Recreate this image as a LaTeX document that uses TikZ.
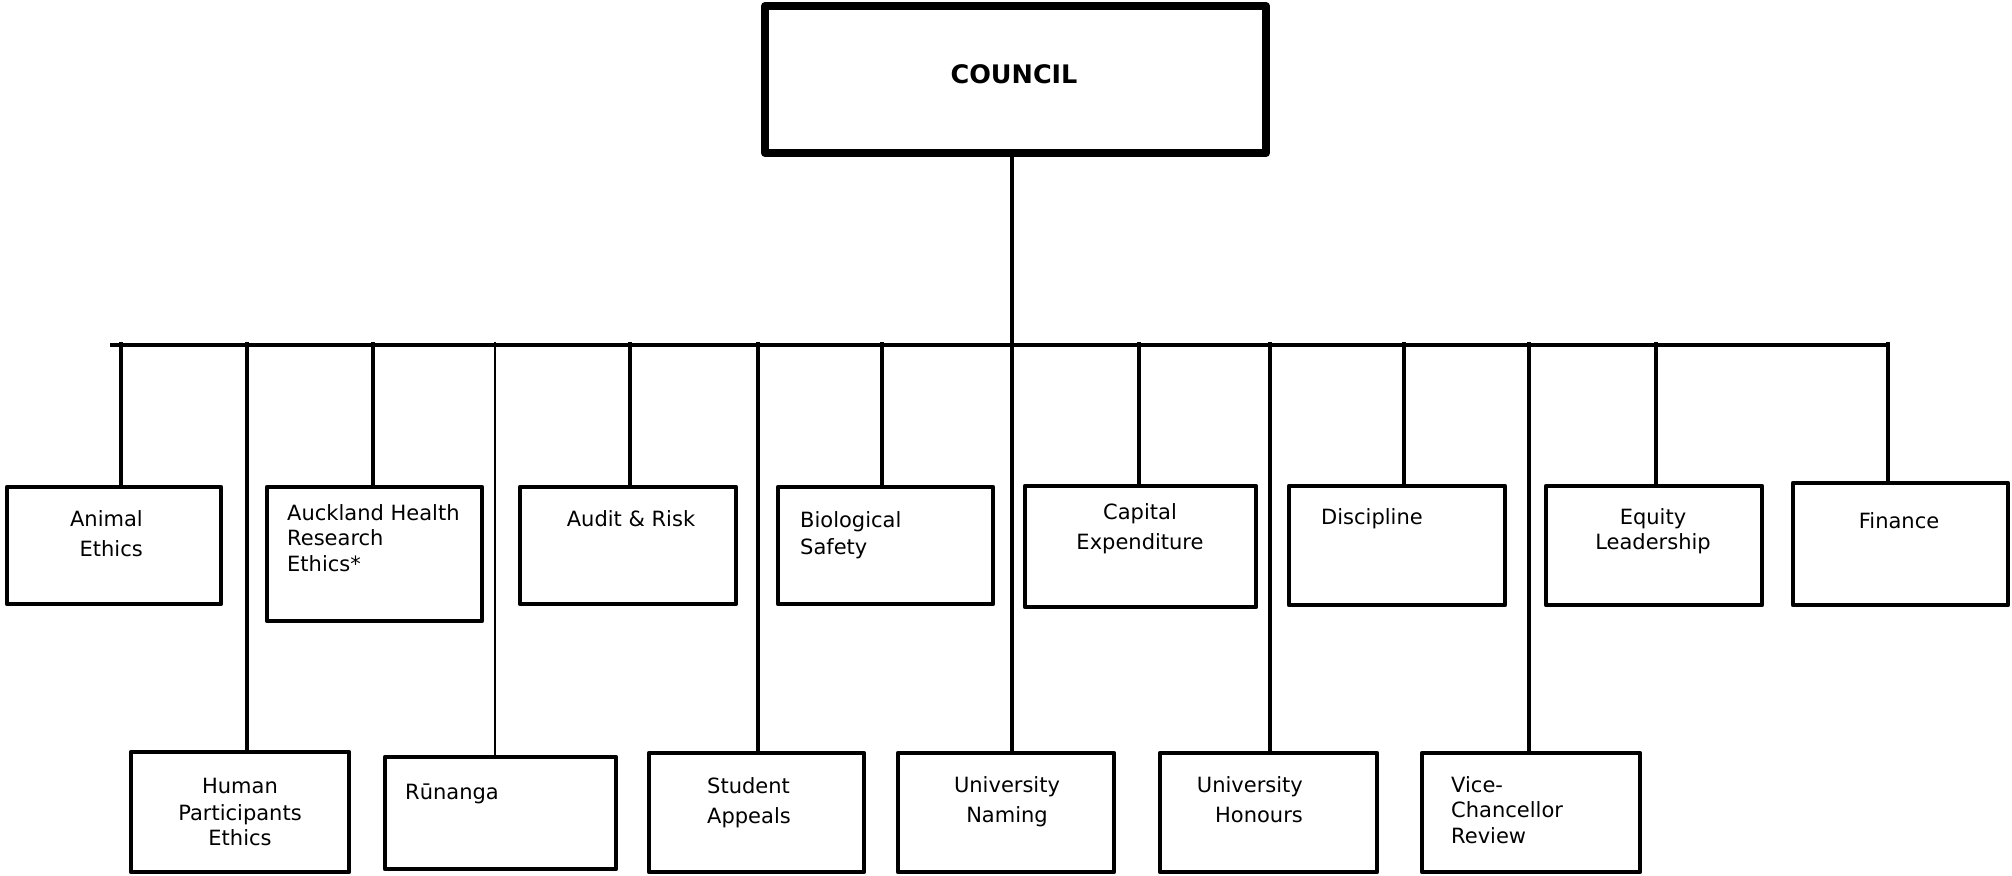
\documentclass[tikz,border=0pt]{standalone}
\usepackage{fontspec}
\setmainfont{DejaVu Sans}
\begin{document}
\begin{tikzpicture}[x=1pt,y=-1pt,
  cbox/.style={draw, line width=4.8pt, line join=round, inner sep=0pt, rectangle},
  ctext/.style={inner sep=0pt, font=\fontsize{21}{25.7}\selectfont},
  link/.style={line width=3.4pt}]
\useasboundingbox (0,0) rectangle (2012,875);

% Council
\node[cbox, line width=8pt, minimum width=501pt, minimum height=147pt] (council) at (1015.5,79.5) {};
\node[inner sep=0pt, font=\fontsize{25.5}{30}\selectfont\bfseries, anchor=base] (councilt) at (1014,83) {COUNCIL};

% top row boxes
\node[cbox, minimum width=214pt, minimum height=117pt] (ae) at (114,545.5) {};
\node[cbox, minimum width=215pt, minimum height=134pt] (ahre) at (374.5,554) {};
\node[cbox, minimum width=216pt, minimum height=117pt] (ar) at (628,545.5) {};
\node[cbox, minimum width=215pt, minimum height=117pt] (bs) at (885.5,545.5) {};
\node[cbox, minimum width=231pt, minimum height=121pt] (ce) at (1140.5,546.5) {};
\node[cbox, minimum width=216pt, minimum height=119pt] (di) at (1397,545.5) {};
\node[cbox, minimum width=216pt, minimum height=119pt] (el) at (1654,545.5) {};
\node[cbox, minimum width=215pt, minimum height=122pt] (fi) at (1900.5,544) {};

% bottom row boxes
\node[cbox, minimum width=218pt, minimum height=120pt] (hpe) at (240,812) {};
\node[cbox, minimum width=231pt, minimum height=112pt] (ru) at (500.5,813) {};
\node[cbox, minimum width=215pt, minimum height=119pt] (sa) at (756.5,812.5) {};
\node[cbox, minimum width=216pt, minimum height=119pt] (un) at (1006,812.5) {};
\node[cbox, minimum width=217pt, minimum height=119pt] (uh) at (1268.5,812.5) {};
\node[cbox, minimum width=218pt, minimum height=119pt] (vc) at (1531,812.5) {};

% texts
\node[ctext, align=right, anchor=north east] (aet) at (143,508) {\strut Animal\\[4.3pt] Ethics};
\node[ctext, align=left, anchor=north west] (ahret) at (287,502) {\strut Auckland Health\\ Research\\ Ethics*};
\node[ctext, anchor=north] (art) at (631,508) {\strut Audit \& Risk};
\node[ctext, align=left, anchor=north west] (bst) at (800,509) {\strut Biological\\[1.3pt] Safety};
\node[ctext, align=center, anchor=north] (cet) at (1140,501) {\strut Capital\\[4.3pt] Expenditure};
\node[ctext, anchor=north west] (dit) at (1321,506) {\strut Discipline};
\node[ctext, align=center, anchor=north] (elt) at (1653,506) {\strut Equity\\ Leadership};
\node[ctext, anchor=north] (fit) at (1899,510) {\strut Finance};
\node[ctext, align=center, anchor=north] (hpet) at (240,775) {\strut Human\\[1.3pt] Participants\\ Ethics};
\node[ctext, anchor=north west] (rut) at (405,781) {\strut Rūnanga};
\node[ctext, align=left, anchor=north west] (sat) at (707,775) {\strut Student\\[4.3pt] Appeals};
\node[ctext, align=center, anchor=north] (unt) at (1007,774) {\strut University\\[4.3pt] Naming};
\node[ctext, align=right, anchor=north east] (uht) at (1303,774) {\strut University\\[4.3pt] Honours};
\node[ctext, align=left, anchor=north west] (vct) at (1451,774) {\strut Vice-\\ Chancellor\\ Review};

% bus
\coordinate (busL) at (110,345);
\coordinate (busR) at (1888,345);
\draw[link] (busL) -- (busR);

% junctions
\coordinate (jAE) at (121,342);
\coordinate (jHPE) at (247,342);
\coordinate (jAHRE) at (373,342);
\coordinate (jRU) at (495,342);
\coordinate (jAR) at (630,342);
\coordinate (jSA) at (758,342);
\coordinate (jBS) at (882,342);
\coordinate (jUN) at (1012,345);
\coordinate (jCE) at (1139,342);
\coordinate (jUH) at (1270,342);
\coordinate (jDI) at (1404,342);
\coordinate (jVC) at (1529,342);
\coordinate (jEL) at (1656,342);
\coordinate (jFI) at (1888,342);

% council stem
\draw[line width=4pt] (jUN |- council.south) -- (jUN);
\draw[link] (jUN) -- (jUN |- un.north);

% stems
\draw[link] (jAE) -- (jAE |- ae.north);
\draw[link] (jHPE) -- (jHPE |- hpe.north);
\draw[link] (jAHRE) -- (jAHRE |- ahre.north);
\draw[line width=1.3pt] (jRU) -- (jRU |- ru.north);
\draw[link] (jAR) -- (jAR |- ar.north);
\draw[link] (jSA) -- (jSA |- sa.north);
\draw[link] (jBS) -- (jBS |- bs.north);
\draw[link] (jCE) -- (jCE |- ce.north);
\draw[link] (jUH) -- (jUH |- uh.north);
\draw[link] (jDI) -- (jDI |- di.north);
\draw[link] (jVC) -- (jVC |- vc.north);
\draw[link] (jEL) -- (jEL |- el.north);
\draw[link] (jFI) -- (jFI |- fi.north);
\end{tikzpicture}
\end{document}
